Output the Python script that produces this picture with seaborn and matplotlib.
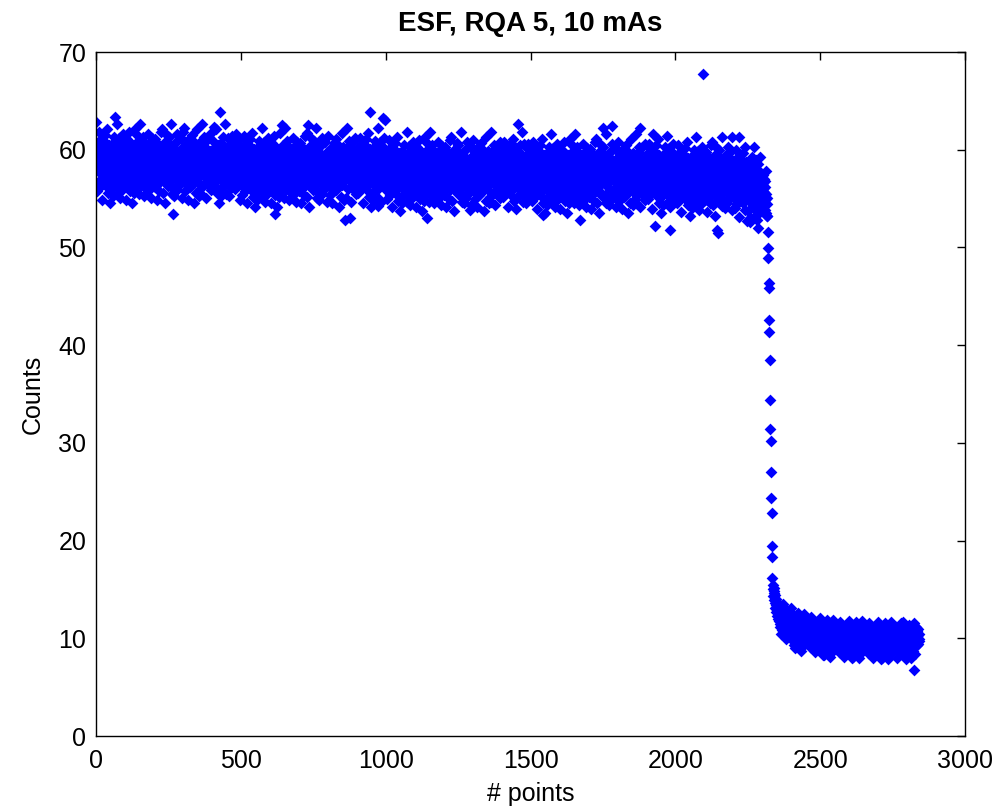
import numpy as np
import pandas as pd
import matplotlib
matplotlib.use('Agg')
import matplotlib.pyplot as plt
import seaborn as sns

# Counts (in tenths), one value per point index.
# Flat part before the edge
plateau_x10 = """
588 628 606 580 594 558 599 583 591 567 618 577 586 602 562 596 581 611 570 592 584 549 597 576 604
578 600 584 609 566 589 575 615 582 593 563 598 571 587 621 579 595 556 590 569 605 574 583 603 545
595 581 560 591 601 572 586 553 607 577 590 597 568 613 584 576 634 604 564 593 579 599 626 574 555
570 592 587 565 612 582 596 577 551 602 589 573 608 579 594 584 559 599 616 575 590 567 585 598 564
604 576 597 549 584 592 570 611 581 596 562 602 586 577 618 567 591 583 599 558 594 580 606 573 588
545 603 583 574 605 569 590 556 595 579 621 587 571 598 563 593 582 615 575 589 566 609 584 600 578
555 574 626 599 579 593 564 604 588 576 584 613 568 597 590 577 607 553 586 572 601 591 560 581 595
564 598 585 567 590 575 616 599 559 584 594 579 608 573 589 602 551 577 596 582 612 565 587 592 570
586 602 562 596 581 611 570 592 584 549 597 576 604 588 573 606 580 594 558 599 583 591 567 618 577
571 587 621 579 595 556 590 569 605 574 583 603 545 578 600 584 609 566 589 575 615 582 593 563 598
568 613 584 576 588 604 564 593 579 599 626 574 555 595 581 560 534 601 572 586 553 607 577 590 597
608 579 594 584 559 599 616 575 590 567 585 598 564 570 592 587 565 612 582 596 577 551 602 589 573
586 577 618 567 622 583 599 558 594 580 606 573 588 604 576 597 549 584 592 570 611 581 596 562 602
571 598 563 593 582 615 575 589 566 609 584 600 578 545 603 583 574 605 569 590 556 595 579 621 587
568 597 590 577 607 553 586 572 601 591 560 581 595 555 574 626 599 579 593 564 604 588 576 584 613
608 573 589 602 551 577 596 582 612 565 587 592 570 564 598 585 567 590 575 616 599 559 584 594 579
578 600 584 609 566 589 575 623 582 593 563 598 571 587 621 579 595 556 590 569 605 574 583 603 545
595 581 560 639 601 572 586 553 607 577 590 597 568 613 584 576 588 604 564 593 579 599 626 574 555
572 590 587 567 612 580 596 579 553 602 587 573 606 579 596 584 561 599 614 575 592 567 583 598 566
586 575 606 578 594 560 597 583 589 567 616 577 588 602 564 596 579 611 572 592 582 549 599 576 602
584 569 602 576 590 554 595 579 587 563 614 573 582 598 558 592 577 607 566 588 580 545 593 572 600
574 596 580 605 562 585 571 611 578 589 559 594 567 583 617 575 591 552 586 565 601 570 579 599 541
591 577 556 587 597 568 582 549 603 573 586 593 564 609 580 572 584 600 560 589 575 595 622 570 551
566 588 583 561 608 578 592 573 547 598 585 569 604 575 590 580 555 595 612 571 586 563 581 594 560
600 572 593 545 580 588 566 607 577 592 558 598 582 573 614 563 587 579 534 554 590 576 602 569 584
541 599 579 570 601 565 586 552 591 575 617 583 567 594 559 589 578 625 571 585 562 605 580 596 574
551 570 622 595 575 589 560 600 584 572 580 609 564 593 586 573 603 549 582 568 597 587 556 577 591
560 594 581 563 586 571 612 595 555 580 590 575 604 569 585 598 547 573 592 578 608 561 583 588 566
582 598 558 592 577 607 566 588 580 545 593 572 600 584 569 602 576 590 554 595 579 587 563 614 573
567 583 617 575 591 552 586 625 601 570 579 599 541 574 596 580 605 562 585 571 611 578 589 559 594
564 609 580 572 584 600 560 589 575 595 622 570 551 591 577 556 587 597 568 582 549 603 573 586 593
604 575 590 580 555 595 612 571 586 563 581 594 560 566 588 583 561 608 578 592 573 547 598 585 569
582 573 614 563 587 579 595 554 590 576 602 569 584 600 572 593 545 580 588 566 607 577 592 558 598
567 594 559 589 578 611 571 585 562 605 580 596 574 541 599 579 570 601 565 586 552 591 575 617 583
564 593 586 573 603 549 582 568 597 587 528 577 591 551 570 622 595 575 589 560 600 584 572 580 609
604 569 530 598 547 573 592 578 608 561 583 588 566 560 594 581 563 586 571 612 595 555 580 590 575
586 567 602 578 590 556 593 579 589 563 612 573 580 598 560 592 575 607 568 588 582 545 591 572 600
574 596 580 605 562 585 571 611 578 589 559 594 567 583 617 575 591 552 586 565 601 639 579 599 541
591 577 556 587 597 568 582 549 603 573 586 593 564 609 580 572 584 600 560 589 575 595 622 542 551
566 588 583 561 608 578 592 573 547 598 585 569 604 575 590 580 632 595 612 571 586 563 581 630 560
580 565 598 572 586 550 591 575 583 559 610 569 578 594 554 588 573 603 562 584 576 541 589 568 596
570 592 576 601 558 581 567 607 574 585 555 590 563 579 613 571 587 548 582 561 597 566 575 595 537
587 573 552 583 593 564 578 545 599 569 582 589 560 605 576 568 580 596 556 585 571 591 618 566 547
562 584 579 557 604 574 588 569 543 594 581 565 600 571 586 576 551 591 608 567 582 559 577 590 556
596 568 589 541 576 584 562 603 573 588 554 594 578 569 610 559 583 575 591 550 586 572 598 565 580
537 595 575 566 597 561 582 548 587 571 613 579 563 590 555 585 574 607 530 581 558 601 576 592 570
547 566 618 591 571 585 556 596 580 568 576 605 560 589 582 569 599 545 578 564 593 583 552 573 587
556 590 577 559 582 567 608 591 551 576 586 571 600 565 581 594 543 569 588 574 604 557 579 584 562
578 594 554 588 573 603 562 584 576 541 589 568 596 580 565 598 572 586 550 591 575 583 559 610 569
563 579 613 571 587 548 582 561 597 566 575 595 537 570 592 576 601 558 581 567 607 574 585 555 590
560 605 576 568 580 596 556 585 571 591 618 566 547 587 573 552 583 593 564 578 545 599 569 582 589
600 571 586 576 551 591 608 567 582 559 577 590 556 562 584 579 538 604 574 588 569 543 594 581 565
578 569 610 559 583 575 591 550 586 572 598 565 580 596 568 589 541 576 584 562 603 573 588 554 594
563 590 555 585 574 607 567 581 558 601 576 592 570 537 595 575 566 597 561 582 548 587 571 613 579
560 589 582 569 599 545 578 564 593 583 552 573 587 547 566 618 591 571 585 556 596 580 568 576 605
600 565 581 594 543 569 588 574 604 557 579 584 562 556 590 577 559 582 567 608 591 551 576 586 571
582 563 598 574 586 552 589 575 585 559 608 569 576 594 556 588 571 603 564 584 578 541 587 568 598
572 590 576 603 558 583 565 607 576 585 553 590 565 579 611 571 589 548 580 561 599 566 573 595 539
587 573 552 583 593 564 578 626 599 569 582 589 560 605 576 568 580 596 556 585 571 591 618 566 547
564 584 577 557 606 574 586 569 545 594 579 565 602 571 584 576 553 591 606 567 580 559 579 590 558
578 563 596 570 584 548 589 573 581 557 608 567 576 592 552 586 571 601 560 582 574 539 587 566 594
568 590 574 599 556 579 565 605 572 583 553 588 561 577 611 569 585 546 533 559 595 564 573 593 535
585 571 550 581 591 562 576 543 597 567 580 587 558 603 574 566 578 594 554 583 569 589 616 564 545
560 582 577 555 602 572 586 567 541 592 579 563 598 569 584 574 549 589 606 565 580 557 575 588 554
594 566 587 539 574 582 560 601 571 586 552 592 576 567 608 557 581 573 589 548 584 570 596 563 578
535 593 573 564 595 559 580 546 585 569 611 577 561 588 553 583 572 605 565 579 556 599 574 590 568
545 564 616 589 569 583 554 594 578 566 574 603 558 587 580 567 597 543 576 562 591 528 550 571 585
554 588 575 557 580 565 606 589 549 574 584 569 598 563 579 592 541 567 586 572 602 555 577 582 560
576 592 552 586 571 601 560 582 574 539 587 566 594 578 563 596 570 584 548 589 573 581 557 608 567
561 577 611 569 585 546 580 559 595 564 573 593 535 568 590 574 599 556 579 565 605 572 583 553 588
622 603 574 566 578 594 554 583 569 589 616 564 545 585 571 550 581 591 562 576 543 597 567 580 587
598 569 584 574 549 589 606 624 580 557 575 588 554 560 582 577 555 602 572 586 567 541 592 579 563
576 567 608 557 581 573 589 548 584 570 596 563 578 594 566 587 539 574 582 560 601 571 586 552 592
561 588 553 583 572 605 565 579 556 599 574 590 568 535 593 573 564 595 559 580 546 585 569 611 577
558 587 580 567 597 543 576 562 591 581 550 571 585 545 564 616 589 569 583 554 594 578 566 574 603
598 563 579 622 541 567 586 572 602 555 577 582 560 554 588 575 557 580 565 606 589 549 574 584 569
580 561 596 572 584 550 587 573 583 557 606 567 574 592 554 586 569 601 562 582 576 539 585 616 596
568 590 574 599 556 522 565 605 572 583 553 588 561 577 611 569 585 546 580 559 595 564 573 593 535
583 571 552 581 589 562 578 543 595 567 582 587 556 603 576 566 576 594 556 583 567 589 614 564 547
560 582 577 555 602 572 586 518 541 592 579 563 598 569 584 574 549 589 606 565 580 557 575 588 554
575 560 593 567 581 545 586 570 578 554 605 564 573 589 549 583 568 598 557 579 571 536 584 563 591
565 587 571 596 553 576 562 602 569 580 550 585 558 574 608 566 582 543 577 556 592 561 570 590 532
582 568 547 578 588 559 573 540 594 564 577 584 555 600 571 563 575 591 551 580 566 586 613 561 542
557 579 574 552 599 569 583 564 538 589 576 560 595 566 581 571 546 586 603 562 678 554 572 585 551
573 589 549 583 568 598 557 579 571 536 584 563 591 575 560 593 567 581 545 586 570 578 554 605 564
558 574 608 566 582 543 577 556 592 561 570 590 532 565 587 571 596 553 576 518 602 569 515 550 585
555 600 571 563 575 591 551 580 566 586 613 561 542 582 568 547 578 588 559 573 540 594 564 577 584
595 566 581 571 546 586 603 562 577 554 572 585 551 557 579 574 552 599 569 583 613 538 589 576 560
570 555 588 562 576 540 581 565 573 549 600 559 568 584 544 578 563 593 552 574 613 531 579 558 586
560 582 566 591 548 571 557 597 564 575 545 580 553 569 603 561 577 538 572 551 587 556 565 585 527
572 558 537 568 578 549 563 530 526 554 567 574 545 590 561 593 565 581 541 570 556 576 603 551 532
547 569 564 542 589 559 573 554 528 579 520 550 585 556 571 561 536 576 593 552 567 544 562 575 541
553 566 541 560 574 546 557 570 538 562 549 568 535 555 578 544 551 532
"""

# Points on the steep edge
edge_x10 = [532, 516, 499, 489, 464, 458, 426, 413, 385, 344, 314, 302, 270, 244, 228, 194, 183]

# Low part after the edge
tail_x10 = """
162 150 155 143 148 152 139 146 136 144 131 140 134 127 138 129 135 123 132 126 120 130 124 133 118
120 112 129 115 123 104 126 117 122 109 135 114 119 127 106 124 116 131 110 121 118 99 125 113 128
109 121 112 125 103 115 108 128 111 117 102 120 106 114 131 110 118 98 116 105 123 107 112 122 93
119 104 116 90 109 112 101 122 107 115 97 118 110 105 126 100 113 108 117 94 122 106 111 103 111
87 116 106 101 117 99 110 92 112 104 125 108 100 114 96 111 105 122 102 114 97 119 106 115 103
107 99 116 102 110 91 113 104 109 96 122 101 106 114 93 111 103 118 97 108 105 86 112 100 115
99 111 102 115 93 105 98 118 101 107 92 110 96 104 121 100 108 88 106 95 113 97 102 112 83
112 97 109 83 102 105 94 115 100 108 90 111 103 98 119 93 106 101 110 87 115 99 104 96 104
81 110 100 95 111 93 104 86 106 98 119 102 94 108 90 105 99 116 96 106 89 113 100 109 97
102 94 111 97 105 86 108 99 104 91 117 96 101 109 88 106 98 113 92 103 100 81 107 95 110
96 108 99 112 90 102 95 115 98 104 89 107 93 101 118 97 105 85 103 92 110 94 99 109 80
110 95 107 81 100 103 92 113 98 106 88 109 101 96 117 91 104 99 108 85 113 97 102 94 102
80 109 99 94 110 92 103 85 105 97 118 101 93 107 89 104 98 115 95 102 90 112 99 108 96
101 93 110 96 104 85 107 98 103 90 116 95 100 108 87 105 97 112 91 102 99 80 106 94 109
95 107 98 111 89 101 94 114 97 103 88 106 92 100 117 96 104 84 102 91 109 93 98 108 79
109 94 106 80 99 102 91 112 97 105 87 108 100 95 116 90 103 98 107 84 112 96 101 93 101
79 108 98 93 109 91 102 84 104 96 117 100 92 106 88 103 97 114 94 101 89 111 98 107 95
105 97 112 91 102 99 80 106 94 109 101 93 110 96 104 85 107 98 103 90 116 95 100 108 87
92 100 117 96 104 84 102 91 109 93 98 108 79 95 107 98 111 89 101 94 114 97 103 88 106
109 94 106 80 99 102 91 112 97 105 87 108 100 95 116 68 103 98 107 84 112 96 101 93 101
100 107 94 103 110 97 104 99
"""


def parse_block(block):
    return [int(v) for v in block.split()]


counts = np.array(parse_block(plateau_x10) + edge_x10 + parse_block(tail_x10)) / 10.0
df = pd.DataFrame({'points': np.arange(len(counts)), 'counts': counts})

sns.set_style('white')
plt.rcParams['font.family'] = ['Liberation Sans', 'DejaVu Sans']
plt.rcParams['text.color'] = 'black'
plt.rcParams['axes.labelcolor'] = 'black'

fig = plt.figure(figsize=(9.97, 8.09), dpi=100)
ax = fig.add_axes([0.0963, 0.0902, 0.8716, 0.8455])

sns.scatterplot(data=df, x='points', y='counts', marker='D', s=36,
                color='#0000ff', linewidth=0, ax=ax)

ax.set_xlim(0, 3000)
ax.set_ylim(0, 70)
ax.set_xticks(range(0, 3001, 500))
ax.set_yticks(range(0, 71, 10))
ax.tick_params(direction='in', length=6, width=1, top=True, right=True,
               labelsize=18, colors='black')
ax.tick_params(axis='x', pad=9)
ax.tick_params(axis='y', pad=7)
for spine in ax.spines.values():
    spine.set_visible(True)
    spine.set_color('black')
    spine.set_linewidth(1)

ax.set_title('ESF, RQA 5, 10 mAs', fontsize=20, fontweight='bold', pad=15)
ax.set_xlabel('# points', fontsize=18, labelpad=7)
ax.set_ylabel('Counts', fontsize=18, labelpad=10)

fig.savefig('out.png', dpi=100)
